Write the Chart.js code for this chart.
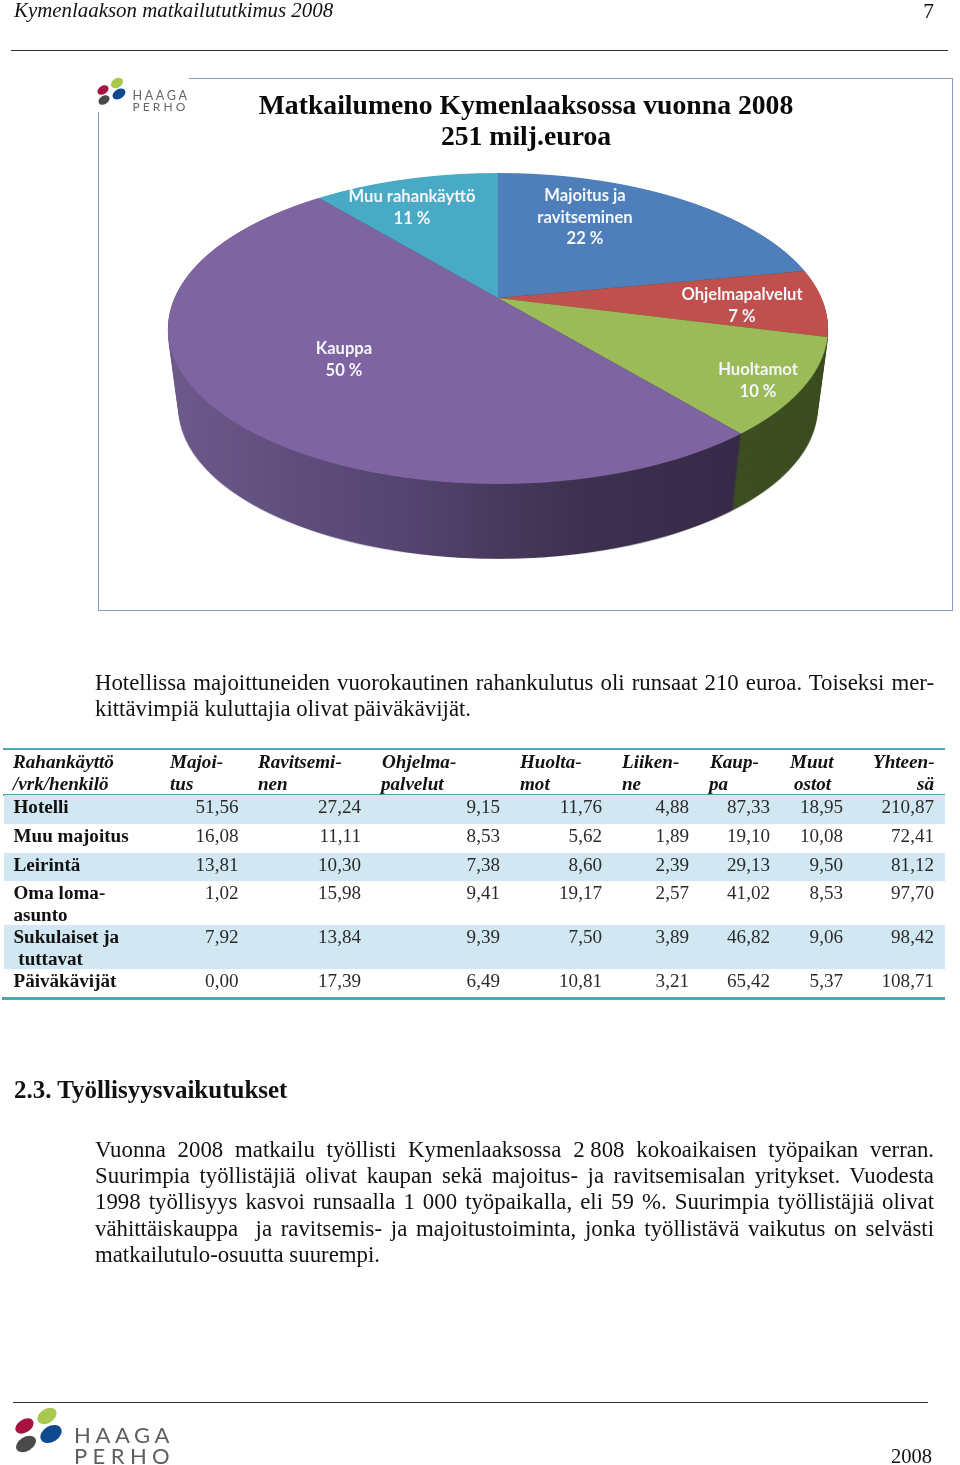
<!DOCTYPE html>
<html lang="fi"><head><meta charset="utf-8">
<script src="https://cdn.jsdelivr.net/npm/chart.js@4"></script>
<style>
html,body{margin:0;padding:0;background:#fff}
body{position:relative;width:960px;height:1465px;overflow:hidden;font-family:"Liberation Serif",serif;color:#111}
.a{position:absolute;white-space:pre}
.j{position:absolute;white-space:normal;text-align:justify;text-align-last:justify}
.r{position:absolute}
#box{position:absolute;left:98px;top:78px;width:852.5px;height:530.5px;border:1.8px solid #829cbd}
#wrap{position:absolute;left:98px;top:78px;width:856px;height:534px}
</style></head><body>
<div id="box"></div>
<div class="r" style="left:92px;top:70px;width:97px;height:42px;background:#fff"></div>
<div id="wrap"><canvas id="c" width="856" height="534" style="width:856px;height:534px;display:block"></canvas></div>
<svg class="r" style="left:0;top:0" width="960" height="1465" id="logos"></svg>
<script>
// ---- pie data
const pieLabels = ['Majoitus ja\nravitseminen','Ohjelmapalvelut','Huoltamot','Kauppa','Muu rahankäyttö'];
const pieValues = [22,7,10,50,11];
const pieColors = ['#4f7fba','#bf504e','#9bbb59','#7e64a0','#48aac5'];
const wallColors = ['#3f4f24','#3f4f24','#3f4f24','#8064a2','#3f4f24'];
const chartTitle = ['Matkailumeno Kymenlaaksossa vuonna 2008','251 milj.euroa'];
// ---- table data
const tableColumns = ['Majoi-\ntus','Ravitsemi-\nnen','Ohjelma-\npalvelut','Huolta-\nmot','Liiken-\nne','Kaup-\npa','Muut\nostot','Yhteen-\nsä'];
const rowNames = ['Hotelli','Muu majoitus','Leirintä','Oma loma-\nasunto','Sukulaiset ja\n tuttavat','Päiväkävijät'];
const hotelli = ['51,56','27,24','9,15','11,76','4,88','87,33','18,95','210,87'];
const muuMajoitus = ['16,08','11,11','8,53','5,62','1,89','19,10','10,08','72,41'];
const leirinta = ['13,81','10,30','7,38','8,60','2,39','29,13','9,50','81,12'];
const omaLomaasunto = ['1,02','15,98','9,41','19,17','2,57','41,02','8,53','97,70'];
const sukulaiset = ['7,92','13,84','9,39','7,50','3,89','46,82','9,06','98,42'];
const paivakavijat = ['0,00','17,39','6,49','10,81','3,21','65,42','5,37','108,71'];
const rows = [hotelli,muuMajoitus,leirinta,omaLomaasunto,sukulaiset,paivakavijat];
// ---- text
const para1 = ['Hotellissa majoittuneiden vuorokautinen rahankulutus oli runsaat 210 euroa. Toiseksi mer-','kittävimpiä kuluttajia olivat päiväkävijät.'];
const para2 = ['Vuonna 2008 matkailu työllisti Kymenlaaksossa 2\u2005808 kokoaikaisen työpaikan verran.','Suurimpia työllistäjiä olivat kaupan sekä majoitus- ja ravitsemisalan yritykset. Vuodesta','1998 työllisyys kasvoi runsaalla 1 000 työpaikalla, eli 59 %. Suurimpia työllistäjiä olivat','vähittäiskauppa\u00a0 ja ravitsemis- ja majoitustoiminta, jonka työllistävä vaikutus on selvästi','matkailutulo-osuutta suurempi.'];

// ---- page layout helpers
function txt(s,x,base,fs,extra){const e=document.createElement('div');e.className='a';e.textContent=s;
  e.style.cssText=`left:${x}px;top:${base-fs*0.891}px;font-size:${fs}px;line-height:${fs*1.107}px;`+(extra||'');document.body.appendChild(e);return e;}
function txtR(s,right,base,fs,extra){const e=txt(s,0,base,fs,extra);e.style.left='auto';e.style.right=(960-right)+'px';return e;}
function just(s,x,w,base,fs){const e=txt(s,x,base,fs);e.className='j';e.style.width=w+'px';return e;}
function rect(x,y,w,h,c){const e=document.createElement('div');e.className='r';e.style.cssText=`left:${x}px;top:${y}px;width:${w}px;height:${h}px;background:${c}`;document.body.insertBefore(e,document.body.firstChild);}

const fsB=22.8;
txt('Kymenlaakson matkailututkimus 2008',14,18,20.9,'font-style:italic');
txtR('7',934,19,21.5);
rect(11,50,937,1.3,'#333');
para1.forEach((l,i)=>{ i==0? just(l,95,839,690+i*26.5,fsB): txt(l,95,690+i*26.5,fsB);});
para2.forEach((l,i)=>{ i<4? just(l,95,839,1157+i*26.3,fsB): txt(l,95,1157+i*26.3,fsB);});
txt('2.3. Työllisyysvaikutukset',14,1098,25,'font-weight:bold');
rect(13,1402,915,1.2,'#333');
txtR('2008',932,1463,20.5);

// table frame
const bandCol='#d1e7f1', ruleCol='#4fa6b8';
[[795,28.5],[852.5,28.5],[925,44]].forEach(b=>rect(3.5,b[0],941.5,b[1],bandCol));
rect(3,748,942,2.2,ruleCol); rect(3,794.2,942,1.6,ruleCol); rect(2,997.2,943,2.4,ruleCol);
const fsT=19.1;
const hs='font-style:italic;font-weight:bold;';
txt('Rahankäyttö',13,768,fsT,hs); txt('/vrk/henkilö',13,790,fsT,hs);
const headLeft=[[170,170],[258,258],[382,381],[520,520],[622,622],[710,709],[790,794],[873,null]];
tableColumns.forEach((h,i)=>{const p=h.split('\n');txt(p[0],headLeft[i][0],768,fsT,hs);
  headLeft[i][1]===null? txtR(p[1],934,790,fsT,hs): txt(p[1],headLeft[i][1],790,fsT,hs);});
const rowBase=[[813,0],[842,0],[871,0],[899,921],[943,965],[987,0]];
const colRight=[238.5,361,500,602,689,770,843,934];
rowNames.forEach((n,i)=>{const p=n.split('\n');txt(p[0],13.5,rowBase[i][0],fsT,'font-weight:bold');
  if(p[1])txt(p[1],13.5,rowBase[i][1],fsT,'font-weight:bold');
  rows[i].forEach((v,j)=>txtR(v,colRight[j],rowBase[i][0],fsT,'color:#2a2a2a'));});

// logos
const ell=(cx,cy,rx,ry,c)=>`<ellipse cx="${cx}" cy="${cy}" rx="${rx}" ry="${ry}" fill="${c}" transform="rotate(-32 ${cx} ${cy})"/>`;
document.getElementById('logos').innerHTML=
 ell(117,83,6.5,4.6,'#a8c84e')+ell(103,90,6,4.2,'#a8123e')+ell(119,94,7,4.8,'#0f4a90')+ell(104,100,6,4.2,'#4a4a4a')+
 `<text x="132.5" y="100" font-family="Lato" font-size="12.6" letter-spacing="2.6" fill="#666">HAAGA</text>`+
 `<text x="132.5" y="111" font-family="Lato" font-size="12" letter-spacing="3.1" fill="#666">PERHO</text>`+
 ell(47,1416,10.5,7,'#a8c84e')+ell(24.5,1426,10,6.5,'#a8123e')+ell(51,1434,11.5,8,'#0f4a90')+ell(26,1444,11,7,'#4a4a4a')+
 `<text x="74" y="1442.5" font-family="Lato" font-size="22" letter-spacing="4.6" fill="#5e5e5e">HAAGA</text>`+
 `<text x="74" y="1463.5" font-family="Lato" font-size="22" letter-spacing="5.4" fill="#5e5e5e">PERHO</text>`;

// ---- pie viewed in perspective: each pixel row of the flat Chart.js pie is re-projected
const persp={xc:400,yc:220,k:0.196,A:149.5,R:323.6,depth:81,shrink:0.033};
function drawFace(ctx,arcs,cx,cy,r,W,H,dpr){
  for(let Y=0;Y<H;Y++){
    const t=Y+.5-persp.yc, v=t/(persp.A+persp.k*t);
    if(Math.abs(v)>=1||persp.A+persp.k*t<=0)continue;
    const sx=persp.R/(1-persp.k*v)/r, sy=(persp.A+persp.k*t)**2/persp.A/r;
    ctx.save();
    ctx.setTransform(dpr,0,0,dpr,0,0);
    ctx.beginPath();ctx.rect(0,Y,W,1);ctx.clip();
    ctx.transform(sx,0,0,sy,persp.xc-sx*cx,Y+.5-sy*(cy+v*r));
    arcs.forEach(a=>a.draw(ctx));
    ctx.restore();
  }
}
function recolor(arcs,cols,fn){const saved=arcs.map(a=>a.options);
  arcs.forEach((a,i)=>{a.options=Object.assign({},saved[i],{backgroundColor:cols[i]});});
  fn();arcs.forEach((a,i)=>{a.options=saved[i];});}
const pie3d={id:'pie3d',beforeDatasetsDraw(chart){
  const arcs=chart.getDatasetMeta(0).data, ctx=chart.ctx, dpr=chart.currentDevicePixelRatio;
  const W=chart.width,H=chart.height,a0=arcs[0],cx=a0.x,cy=a0.y,r=a0.outerRadius;
  const mk=()=>{const c=document.createElement('canvas');c.width=W*dpr;c.height=H*dpr;return c;};
  // side wall
  const sprite=mk(),sc=sprite.getContext('2d');
  recolor(arcs,wallColors,()=>drawFace(sc,arcs.filter((a,i)=>i!==3),cx,cy,r,W,H,dpr));
  const layer=(target,src)=>{for(let s=persp.depth;s>=1;s--){const f=1-persp.shrink*s/persp.depth;
      target.drawImage(src,persp.xc-persp.xc*f,persp.yc+s-persp.yc*f,W*f,H*f);}};
  ctx.save();ctx.setTransform(dpr,0,0,dpr,0,0);
  layer(ctx,sprite);
  const s2=mk(),c2=s2.getContext('2d');
  drawFace(c2,[arcs[3]],cx,cy,r,W,H,dpr);
  const w2=mk(),cw=w2.getContext('2d');cw.scale(dpr,dpr);layer(cw,s2);
  cw.globalCompositeOperation='source-atop';
  const g=cw.createLinearGradient(72,0,640,0);
  [[0,'#6d5a8b'],[.22,'#5f4e7c'],[.42,'#544470'],[.6,'#45385a'],[.72,'#3d3150'],[1,'#362a48']].forEach(p=>g.addColorStop(p[0],p[1]));
  cw.fillStyle=g;cw.fillRect(0,0,W,H);
  ctx.drawImage(w2,0,0,W,H);
  ctx.restore();
  // top face
  drawFace(ctx,arcs,cx,cy,r,W,H,dpr);
  return false;
}};
const labelCentres=[[487,118],[644,217],[660,292],[246,271],[314,119]];
const sliceLabels={id:'sliceLabels',afterDraw(chart){const ctx=chart.ctx;ctx.save();
  ctx.font='bold 16.6px Lato';ctx.fillStyle='#f4f6fa';ctx.textAlign='center';ctx.textBaseline='middle';
  pieLabels.forEach((l,i)=>{const lines=l.split('\n').concat(pieValues[i]+' %');
    lines.forEach((s,n)=>ctx.fillText(s,labelCentres[i][0],labelCentres[i][1]+n*21.5));});
  ctx.restore();}};
new Chart(document.getElementById('c'),{type:'pie',
  data:{labels:pieLabels,datasets:[{data:pieValues,backgroundColor:pieColors,borderWidth:0}]},
  plugins:[pie3d,sliceLabels],
  options:{responsive:false,animation:false,devicePixelRatio:1,
    plugins:{legend:{display:false},tooltip:{enabled:false},
      title:{display:true,text:chartTitle,color:'#0a0a0a',font:{family:'Liberation Serif',weight:'bold',size:27.7,lineHeight:1.12},padding:{top:13,bottom:10}}}}});
</script>
</body></html>
